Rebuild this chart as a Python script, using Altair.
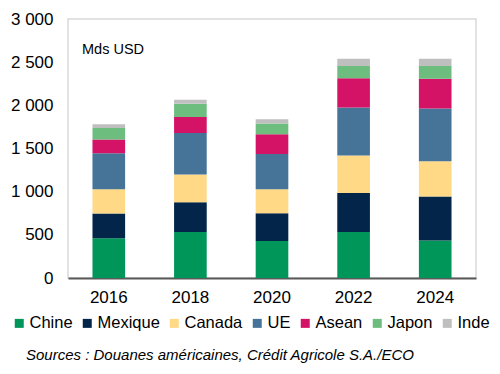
import altair as alt
import pandas as pd

years = ["2016", "2018", "2020", "2022", "2024"]
series = ["Chine", "Mexique", "Canada", "UE", "Asean", "Japon", "Inde"]
colors = ["#00965a", "#022549", "#ffd986", "#467498", "#d41367", "#6dbd7f", "#bfbfbf"]

chine = [460, 533, 429, 533, 433]
mexique = [286, 344, 321, 452, 510]
canada = [282, 321, 278, 433, 409]
ue = [417, 482, 409, 556, 610]
asean = [159, 185, 228, 339, 347]
japon = [134, 154, 124, 142, 146]
inde = [43, 46, 50, 86, 86]

values = [chine, mexique, canada, ue, asean, japon, inde]
rows = []
for si, (name, vals) in enumerate(zip(series, values)):
    for y, v in zip(years, vals):
        rows.append({"year": y, "pays": name, "value": v, "ord": si})
df = pd.DataFrame(rows)

FONT = "Liberation Sans"

bars = alt.Chart(df).mark_bar().encode(
    x=alt.X("year:N", sort=years, title=None,
            scale=alt.Scale(paddingInner=0.6, paddingOuter=0.3),
            axis=alt.Axis(labelAngle=0, labelFontSize=17, labelFont=FONT, labelColor="#000000",
                          ticks=False, domainColor="#595959", domainWidth=2, labelPadding=11)),
    y=alt.Y("value:Q", stack="zero", title=None,
            scale=alt.Scale(domain=[0, 3000]),
            axis=alt.Axis(values=[0, 500, 1000, 1500, 2000, 2500, 3000], grid=False, domain=False,
                          ticks=False, labelFontSize=17, labelFont=FONT, labelColor="#000000",
                          labelPadding=15,
                          labelExpr="replace(format(datum.value, ','), ',', ' ')")),
    color=alt.Color("pays:N", sort=series,
                    scale=alt.Scale(domain=series, range=colors),
                    legend=alt.Legend(title=None, orient="none", direction="horizontal",
                                      legendX=-57, legendY=296, columns=7,
                                      symbolType="square", symbolSize=81, symbolStrokeWidth=0,
                                      symbolOpacity=1,
                                      labelFontSize=16.5, labelFont=FONT, labelColor="#000000",
                                      labelOffset=2, columnPadding=6, padding=0)),
    order=alt.Order("ord:Q", sort="ascending"),
)

unit = alt.Chart(pd.DataFrame({"t": ["Mds USD"]})).mark_text(
    align="left", baseline="middle", fontSize=14.5, font=FONT, color="#000000"
).encode(text="t:N", x=alt.value(14), y=alt.value(31))

src = alt.Chart(pd.DataFrame({"t": ["Sources : Douanes américaines, Crédit Agricole S.A./ECO"]})).mark_text(
    align="left", baseline="middle", fontSize=15, font=FONT, fontStyle="italic", color="#000000"
).encode(text="t:N", x=alt.value(-42), y=alt.value(336))

chart = alt.layer(bars, unit, src).properties(
    width=408, height=259,
    autosize=alt.AutoSizeParams(type="none"),
    padding={"left": 60, "top": 11, "right": 16, "bottom": 88},
).configure_view(stroke="#d9d9d9", strokeWidth=1.5)

chart.save("out.html", embed_options={"renderer": "svg", "actions": False})
